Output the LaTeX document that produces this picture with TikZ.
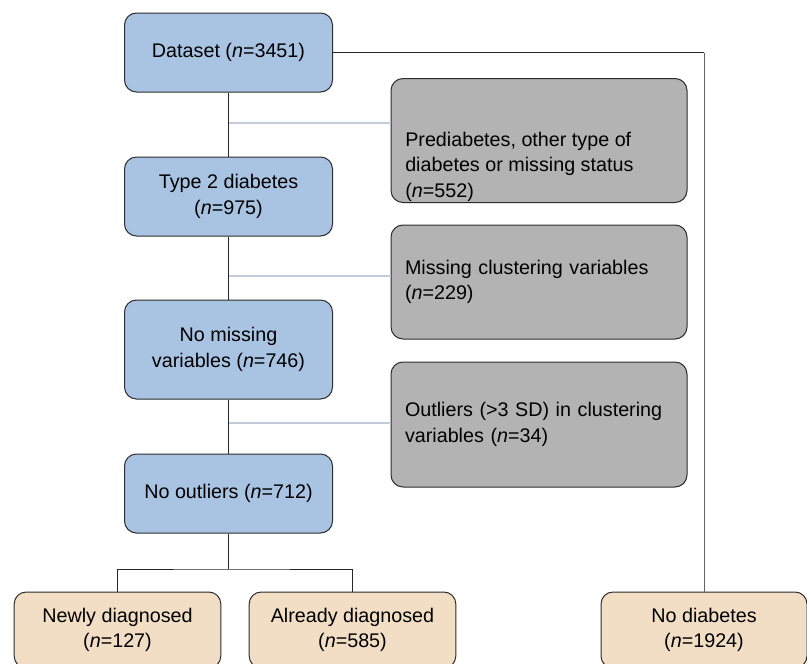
\documentclass[tikz,border=0pt]{standalone}
\usepackage{fontspec}
\setmainfont{Liberation Sans}
\usepackage{tikz}
\usetikzlibrary{positioning, calc}
\definecolor{boxblue}{RGB}{169,196,226}
\definecolor{boxgray}{RGB}{179,179,179}
\definecolor{boxbeige}{RGB}{242,222,196}
\definecolor{boxline}{RGB}{45,45,45}
\definecolor{branchline}{RGB}{196,204,219}
\definecolor{sideline}{RGB}{100,100,100}
\newcommand{\boxfont}{\fontsize{14.8pt}{19pt}\selectfont}
\tikzset{
	stage/.style={
		draw=boxline,
		fill=boxblue,
		line width=0.75pt,
		rounded corners=9pt,
		inner sep=0pt,
		minimum width=156pt,
		minimum height=59.25pt,
		align=center,
		font=\boxfont
	},
	excluded/.style={
		stage,
		fill=boxgray,
		minimum width=222pt,
		text width=201pt,
		inner xsep=10.5pt,
		align=left
	},
	outcome/.style={
		stage,
		fill=boxbeige,
		minimum width=155pt,
		minimum height=57pt
	}
}
\begin{document}
\begin{tikzpicture}[x=0.75pt, y=-0.75pt]
	\tikzset{edge/.style={draw=black!85, line width=0.75pt}}
	\tikzset{branch/.style={draw=branchline, line width=1pt}}
	
	\useasboundingbox (0,0) rectangle (807,664);
	\clip (0,0) rectangle (807,664);
	
	% main stages
	\node(ds) at (228.5,52.5) [stage] {Dataset (\textit{n}=3451)};
	\node(t2d) at (228.5,196.5) [stage] {Type 2 diabetes\\(\textit{n}=975)};
	\node(nomiss) at (228.5,349.5) [stage, minimum height=74.25pt] {No missing\\variables (\textit{n}=746)};
	\node(noout) at (228.5,493.5) [stage] {No outliers (\textit{n}=712)};
	
	% exclusions
	\node(excl1) at (539,140.5) [excluded, minimum height=93pt] {};
	\node(excl1txt) at (405,132) [anchor=north west, inner sep=0pt, align=left, font=\boxfont] {Prediabetes, other type of\\diabetes or missing status\\(\textit{n}=552)};
	\node(excl2) at (539,282) [excluded, minimum height=85.5pt] {Missing clustering variables\\(\textit{n}=229)};
	\node(excl3) at (539,424.5) [excluded, minimum height=93.75pt] {Outliers (>3 SD) in clustering\\variables (\textit{n}=34)};
	
	% groups
	\node(newly) at (117.5,630) [outcome] {Newly diagnosed\\(\textit{n}=127)};
	\node(already) at (352.5,630) [outcome] {Already diagnosed\\(\textit{n}=585)};
	\node(nodiab) at (704,630) [outcome, minimum width=154.5pt] {No diabetes\\(\textit{n}=1924)};
	
	\coordinate(b1) at (228.5,123);
	\coordinate(b2) at (228.5,276);
	\coordinate(b3) at (228.5,423);
	\coordinate(fork) at (228.5,569);
	
	\draw[edge](ds) -- (t2d);
	\draw[edge](t2d) -- (nomiss);
	\draw[edge](nomiss) -- (noout);
	\draw[edge](noout) -- (fork);
	\draw[edge](newly.north) |- (fork) -| (already.north);
	
	\draw[branch](b1) -- (b1 -| excl1.west);
	\draw[branch](b2) -- (b2 -| excl2.west);
	\draw[branch](b3) -- (b3 -| excl3.west);
	
	\draw[edge](ds.east) -- (ds.east -| nodiab.north);
	\draw[edge, draw=sideline](ds.east -| nodiab.north) -- (nodiab.north);
	
\end{tikzpicture}
\end{document}
